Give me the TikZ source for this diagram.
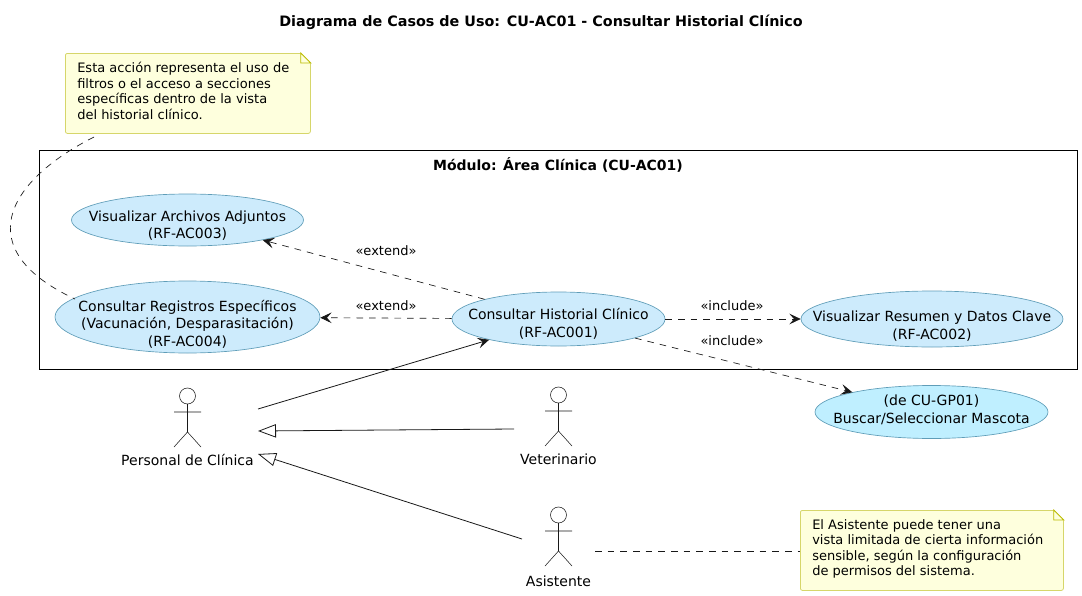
\documentclass[tikz,border=0pt]{standalone}
\usepackage{fontspec}
\setmainfont{DejaVu Sans}
\usetikzlibrary{shapes.geometric, arrows.meta}
\definecolor{usecasefill}{HTML}{CDEBFC}
\definecolor{usecaseline}{HTML}{5F9DB8}
\definecolor{mascotafill}{HTML}{BFEFFF}
\definecolor{notefill}{HTML}{FEFFDD}
\definecolor{noteline}{HTML}{D6D66A}
\definecolor{foldline}{HTML}{BBBB00}
\definecolor{inkline}{HTML}{181818}
\newcommand{\uctext}[2][-1.28em]{\makebox[0pt]{\raisebox{#1}{\smash{\begin{tabular}{@{}c@{}}#2\end{tabular}}}}}
\tikzset{
    usecase/.style={ellipse, draw=usecaseline, fill=usecasefill, line width=0.5pt, inner sep=0pt,
        font=\fontsize{10.5}{12.9}\selectfont},
    notebox/.style={rectangle, draw=noteline, fill=notefill, line width=0.6pt, rounded corners=1.5pt,
        align=left, anchor=north west, inner sep=0pt, font=\fontsize{9.75}{11.6}\selectfont},
    stereo/.style={font=\fontsize{9.75}{11.6}\selectfont},
    dep/.style={draw=inkline, dashed, dash pattern=on 5pt off 4.5pt, line width=0.5pt, -{Stealth[length=8.5pt,width=8pt,inset=3.5pt]}},
    gen/.style={draw=inkline, line width=0.6pt, -{Triangle[open,length=13.5pt,width=10pt,fill=white]}},
    notelink/.style={draw=inkline, dashed, dash pattern=on 5pt off 4.5pt, line width=0.5pt},
    actorman/.pic={
        \draw[inkline, line width=0.4pt] (0,0) circle(6pt);
        \draw[inkline, line width=0.4pt] (0,8) -- (0,36) (-13.5,16) -- (13.5,16) (-13.5,51) -- (0,36) -- (13.5,51);
    }
}

\begin{document}
\begin{tikzpicture}[x=0.75pt, y=-0.75pt]
    \useasboundingbox (0,0) rectangle (1082,596);
    \node[font=\fontsize{10.75}{12}\selectfont\bfseries] (title) at (541,22) {Diagrama de Casos de Uso: CU-AC01 - Consultar Historial Clínico};

    % module
    \draw[line width=0.75pt] (39,150) rectangle (1077,369);
    \node[font=\fontsize{10.5}{12}\selectfont\bfseries] (moduleTitle) at (558,165) {Módulo: Área Clínica (CU-AC01)};

    \node[usecase, minimum width=174pt, minimum height=39pt] (archivos) at (187.5,220) {\uctext[-1.5em]{Visualizar Archivos Adjuntos\\(RF-AC003)}};
    \node[usecase, minimum width=198.75pt, minimum height=54pt] (registros) at (187.5,317) {\uctext[-1.74em]{Consultar Registros Específicos\\(Vacunación, Desparasitación)\\(RF-AC004)}};
    \node[usecase, minimum width=159.75pt, minimum height=40.5pt] (historial) at (558.5,319) {\uctext[-1.39em]{Consultar Historial Clínico\\(RF-AC001)}};
    \node[usecase, minimum width=196.5pt, minimum height=42pt] (resumen) at (932,319) {\uctext[-1.68em]{Visualizar Resumen y Datos Clave\\(RF-AC002)}};
    \node[usecase, fill=mascotafill, minimum width=174.75pt, minimum height=39.75pt] (mascota) at (931.5,412) {\uctext[-.39em]{(de CU-GP01)\\Buscar/Seleccionar Mascota}};

    % actors
    \pic at (187.5,396) {actorman};
    \pic at (558.5,395) {actorman};
    \pic at (558.5,515) {actorman};
    \node[font=\fontsize{10.5}{12}\selectfont] (personal) at (187.5,460) {Personal de Clínica};
    \node[font=\fontsize{10.5}{12}\selectfont] (veterinario) at (558.5,459) {Veterinario};
    \node[font=\fontsize{10.5}{12}\selectfont] (asistente) at (558.5,581) {Asistente};

    % notes
    \node[notebox, minimum width=183.75pt, minimum height=60pt] (noteFiltros) at (65,53) {};
    \node[stereo, align=left, anchor=north west, inner sep=0pt] (noteFiltrosText) at (77,62) {Esta acción representa el uso de\\filtros o el acceso a secciones\\específicas dentro de la vista\\del historial clínico.};
    \node[notebox, minimum width=197.25pt, minimum height=60pt] (noteAsistente) at (800,510) {};
    \node[stereo, align=left, anchor=north west, inner sep=0pt] (noteAsistenteText) at (812,519) {El Asistente puede tener una\\vista limitada de cierta información\\sensible, según la configuración\\de permisos del sistema.};
    \foreach \n in {noteFiltros, noteAsistente} {
        \fill[white] ([xshift=-7.5pt]\n.north east) -- ([xshift=1pt,yshift=1pt]\n.north east) -- ([yshift=-7.5pt]\n.north east) -- cycle;
        \draw[foldline, line width=0.6pt, fill=notefill] ([xshift=-7.5pt]\n.north east) -- ([yshift=-7.5pt]\n.north east) -- ([xshift=-7.5pt,yshift=-7.5pt]\n.north east) -- cycle;
    }

    % free ends
    \coordinate (personalOut) at (258,409);
    \coordinate (personalGen) at (258,431);
    \coordinate (personalGenB) at (258,454);
    \coordinate (veterinarioOut) at (514,429);
    \coordinate (asistenteOut) at (522,539);
    \coordinate (asistenteNote) at (595,551);
    \coordinate (filtrosOut) at (94,137);
    \coordinate (registrosIn) at (75,299);

    \draw[dep] (historial) -- (archivos);
    \draw[dep] (historial) -- (registros);
    \draw[dep] (historial) -- (resumen);
    \draw[dep] (historial) -- (mascota);
    \node[stereo] (labelExtendA) at (386,251) {«extend»};
    \node[stereo] (labelExtendB) at (386,306) {«extend»};
    \node[stereo] (labelIncludeA) at (732,306) {«include»};
    \node[stereo] (labelIncludeB) at (732,341) {«include»};

    \draw[inkline, line width=0.6pt, -{Stealth[length=8.5pt,width=8pt,inset=3.5pt]}] (personalOut) -- (historial);
    \draw[gen] (veterinarioOut) -- (personalGen);
    \draw[gen] (asistenteOut) -- (personalGenB);
    \draw[notelink] (asistenteNote) -- (asistenteNote -| noteAsistente.west);
    \draw[notelink] (filtrosOut) .. controls (5,182) and (-30,250) .. (registrosIn);
\end{tikzpicture}
\end{document}
